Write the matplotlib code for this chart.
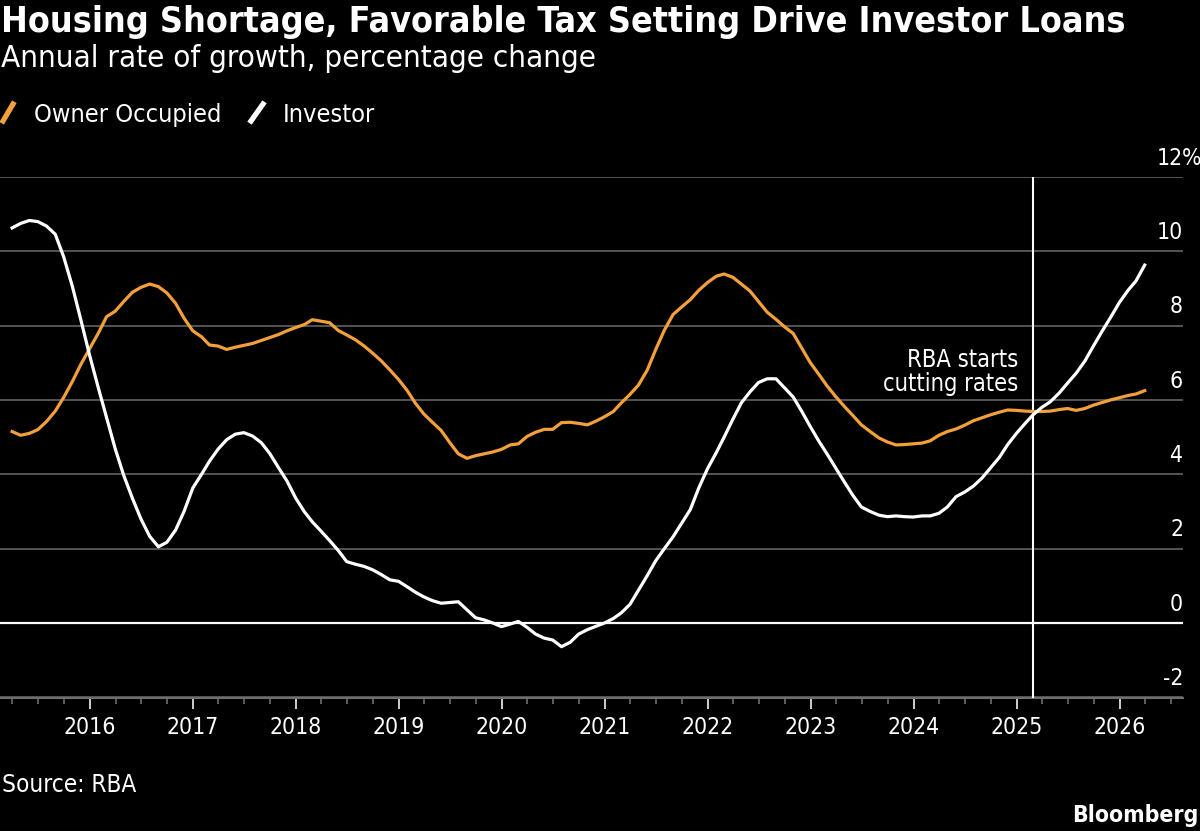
import matplotlib
matplotlib.use('Agg')
import matplotlib.pyplot as plt
import matplotlib.dates as mdates
from matplotlib.lines import Line2D
import pandas as pd


####################################################
##                Data
####################################################

# month-end observations, Mar 2015 .. Mar 2026
dates = pd.date_range('2015-03-31', periods=133, freq='ME')

owner_occupied = [
    5.15, 5.05, 5.10, 5.20, 5.42, 5.70, 6.07, 6.50, 6.96, 7.38,   # 2015
    7.80, 8.24, 8.39, 8.65, 8.90, 9.03, 9.12, 9.05, 8.88, 8.60, 8.20, 7.86,   # 2016
    7.70, 7.48, 7.45, 7.36, 7.42, 7.47, 7.52, 7.60, 7.68, 7.76, 7.86, 7.95,   # 2017
    8.03, 8.16, 8.12, 8.08, 7.87, 7.75, 7.62, 7.45, 7.26, 7.05, 6.81, 6.55,   # 2018
    6.25, 5.92, 5.62, 5.40, 5.18, 4.86, 4.55, 4.43, 4.50, 4.55, 4.60, 4.67,   # 2019
    4.79, 4.82, 5.02, 5.13, 5.21, 5.21, 5.39, 5.40, 5.37, 5.33, 5.43, 5.55,   # 2020
    5.69, 5.92, 6.15, 6.40, 6.80, 7.35, 7.88, 8.30, 8.50, 8.70, 8.95, 9.16,   # 2021
    9.33, 9.39, 9.30, 9.12, 8.93, 8.65, 8.36, 8.17, 7.97, 7.79, 7.40, 7.00,   # 2022
    6.68, 6.38, 6.09, 5.83, 5.58, 5.33, 5.15, 4.98, 4.87, 4.79, 4.80, 4.82,   # 2023
    4.84, 4.90, 5.05, 5.15, 5.22, 5.32, 5.44, 5.52, 5.60, 5.67, 5.73, 5.72,   # 2024
    5.70, 5.69, 5.69, 5.70, 5.74, 5.77, 5.72, 5.77, 5.86, 5.93, 6.00, 6.06,   # 2025
    6.12, 6.16, 6.25,                                                         # 2026
]

investor = [
    10.63, 10.75, 10.83, 10.80, 10.68, 10.46, 9.85, 9.05, 8.15, 7.20,         # 2015
    6.32, 5.53, 4.68, 3.97, 3.35, 2.80, 2.33, 2.05, 2.17, 2.50, 3.00, 3.63,   # 2016
    4.00, 4.35, 4.68, 4.93, 5.08, 5.12, 5.03, 4.85, 4.56, 4.18, 3.82, 3.36,   # 2017
    2.99, 2.72, 2.47, 2.22, 1.95, 1.65, 1.58, 1.52, 1.43, 1.30, 1.16, 1.12,   # 2018
    0.97, 0.83, 0.70, 0.60, 0.53, 0.55, 0.57, 0.35, 0.14, 0.08, 0.00, -0.10,  # 2019
    -0.03, 0.04, -0.12, -0.30, -0.41, -0.46, -0.64, -0.52, -0.30, -0.18, -0.09, 0.00,  # 2020
    0.12, 0.27, 0.50, 0.88, 1.27, 1.67, 2.00, 2.32, 2.68, 3.05, 3.63, 4.15,   # 2021
    4.58, 5.00, 5.48, 5.92, 6.22, 6.47, 6.57, 6.57, 6.33, 6.08, 5.70, 5.28,   # 2022
    4.88, 4.55, 4.17, 3.80, 3.43, 3.12, 3.00, 2.90, 2.86, 2.88, 2.86, 2.85,   # 2023
    2.88, 2.88, 2.95, 3.12, 3.40, 3.52, 3.68, 3.90, 4.17, 4.45, 4.80, 5.10,   # 2024
    5.37, 5.60, 5.80, 5.95, 6.18, 6.45, 6.72, 7.05, 7.45, 7.85, 8.22, 8.62,   # 2025
    8.95, 9.20, 9.63,                                                         # 2026
]

y_ticks = [-2, 0, 2, 4, 6, 8, 10, 12]
y_labels = ['-2', '0', '2', '4', '6', '8', '10', '12']

rba_cut_date = pd.Timestamp('2025-02-28')

####################################################
##                Styling
####################################################

ORANGE = '#F2A03A'
GRID = '#5a5a5a'
BG = 'black'
FONT = 'DejaVu Sans'
STRETCH = 'condensed'

plt.rcParams['font.family'] = [FONT]
plt.rcParams['font.stretch'] = STRETCH

W, H = 1200, 831


def fx(px):
    return px / W


def fy(py):
    return 1 - py / H


fig = plt.figure(figsize=(12, 8.31), dpi=100, facecolor=BG)
ax = fig.add_axes([0, fy(698), fx(1183), fy(177) - fy(698)])
ax.set_facecolor(BG)

ax.plot(dates, owner_occupied, color=ORANGE, lw=2.3, zorder=4, solid_joinstyle='round')
ax.plot(dates, investor, color='white', lw=2.3, zorder=5, solid_joinstyle='round')

ax.set_ylim(-2.02, 12)
ax.set_xlim(pd.Timestamp('2015-02-16'), pd.Timestamp('2026-08-14'))

# horizontal grid
ax.set_yticks(y_ticks)
ax.yaxis.grid(True, color=GRID, lw=1.3)
ax.tick_params(axis='y', length=0, labelleft=False, labelright=False)
ax.axhline(0, color='white', lw=1.6, zorder=3)
ax.set_axisbelow(True)

for v, lab in zip(y_ticks, y_labels):
    ax.text(1.0, v + 0.33, lab, transform=ax.get_yaxis_transform(),
            ha='right', va='baseline', color='white', fontsize=16.5)
    if v == 12:
        # percent sign hangs past the grid end, squeezed to fit the canvas
        ax.text(0.999, v + 0.33, '%', transform=ax.get_yaxis_transform(),
                ha='left', va='baseline', color='white', fontsize=16.5,
                fontstretch='ultra-condensed')

# x axis
for s in ['top', 'left', 'right']:
    ax.spines[s].set_visible(False)
ax.spines['bottom'].set_color('#6e6e6e')
ax.spines['bottom'].set_linewidth(1.5)
ax.xaxis.set_major_locator(mdates.YearLocator())
ax.xaxis.set_major_formatter(mdates.DateFormatter('%Y'))
ax.xaxis.set_minor_locator(mdates.MonthLocator(bymonth=[4, 7, 10]))
ax.tick_params(axis='x', which='major', length=8, width=1.4, color='#cfcfcf',
               labelcolor='white', labelsize=16.5, pad=5)
ax.tick_params(axis='x', which='minor', length=4.5, width=1.2, color='#6e6e6e')

# RBA line and note
ax.axvline(rba_cut_date, color='white', lw=1.5, zorder=3)
ax.text(pd.Timestamp('2025-01-05'), 6.12, 'RBA starts\ncutting rates', ha='right', va='bottom',
        color='white', fontsize=17, linespacing=1.0)

# titles
fig.text(fx(1), fy(32), 'Housing Shortage, Favorable Tax Setting Drive Investor Loans',
         color='white', fontsize=25.7, fontweight='bold', va='baseline', ha='left')
fig.text(fx(1), fy(67), 'Annual rate of growth, percentage change',
         color='white', fontsize=22.5, va='baseline', ha='left')

# legend
fig.add_artist(Line2D([fx(3), fx(13)], [fy(121), fy(104)], color=ORANGE, lw=3.8))
fig.text(fx(34), fy(122), 'Owner Occupied', color='white', fontsize=18.2, va='baseline')
fig.add_artist(Line2D([fx(251), fx(263)], [fy(121), fy(104)], color='white', lw=3.8))
fig.text(fx(283), fy(122), 'Investor', color='white', fontsize=18.2, va='baseline')

# footer
fig.text(fx(2), fy(792), 'Source: RBA', color='white', fontsize=17.5, va='baseline')
fig.text(fx(1198), fy(822), 'Bloomberg', color='white', fontsize=16.5, fontweight='bold',
         va='baseline', ha='right')

fig.savefig('out.png', dpi=100, facecolor=BG)
